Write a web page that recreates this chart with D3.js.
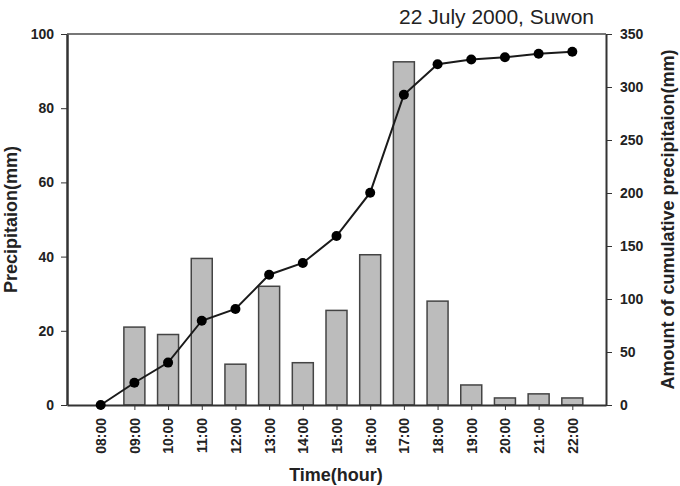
<!DOCTYPE html>
<html>
<head>
<meta charset="utf-8">
<script src="https://cdn.jsdelivr.net/npm/d3@7"></script>
<style>
    body { margin: 0; background: #fff; }
    svg { font-family: "Liberation Sans", Arial, sans-serif; }
    .axis text { font-size: 14px; font-weight: bold; fill: #222; }
    .axis path, .axis line { stroke: #333; }
    .axisTitle { font-size: 18px; font-weight: bold; fill: #222; }
</style>
</head>
<body>
<div id="chart"></div>
<script>
// hours on the x axis
var hours = ["08:00", "09:00", "10:00", "11:00", "12:00", "13:00", "14:00", "15:00",
             "16:00", "17:00", "18:00", "19:00", "20:00", "21:00", "22:00"];
// hourly precipitation (mm), left axis
var hourly = [0, 21, 19, 39.5, 11, 32, 11.4, 25.5, 40.5, 92.5, 28, 5.4, 1.9, 3, 1.9];
// cumulative precipitation (mm), right axis
var cumulative = [0, 21, 40, 79.5, 90.6, 122.9, 134, 159.4, 200.3, 292.7, 321.4, 326, 328, 331.4, 333.3];
var leftTicks = [0, 20, 40, 60, 80, 100];
var rightTicks = [0, 50, 100, 150, 200, 250, 300, 350];

function init() {
    var w = 680;
    var h = 486;
    var left = 67, right = 606, top = 34, bottom = 405;
    var barWidth = 21;

    var svg = d3.select("#chart")
        .append("svg")
        .attr("width", w)
        .attr("height", h);

    // index -1 .. 15 so that each hour sits in the middle of its slot
    var xScale = d3.scaleLinear()
        .domain([-1, hours.length])
        .range([left, right]);

    var yLeft = d3.scaleLinear().domain([0, 100]).range([bottom, top]);
    var yRight = d3.scaleLinear().domain([0, 350]).range([bottom, top]);

    // bars (skip the empty first hour)
    var barData = hourly.map(function(v, i) { return { i: i, v: v }; })
        .filter(function(d) { return d.v > 0; });

    svg.selectAll("rect.bar")
        .data(barData)
        .enter()
        .append("rect")
        .attr("class", "bar")
        .attr("x", function(d) { return xScale(d.i) - barWidth / 2; })
        .attr("y", function(d) { return yLeft(d.v); })
        .attr("width", barWidth)
        .attr("height", function(d) { return bottom - yLeft(d.v); })
        .attr("fill", "#bcbcbc")
        .attr("stroke", "#444")
        .attr("stroke-width", 1.5);

    // frame top line
    svg.append("line")
        .attr("x1", left).attr("x2", right)
        .attr("y1", top).attr("y2", top)
        .attr("stroke", "#777")
        .attr("stroke-width", 2);

    // axes
    var xAxis = d3.axisBottom(xScale)
        .tickValues(d3.range(hours.length))
        .tickFormat(function(i) { return hours[i]; })
        .tickSize(5)
        .tickSizeOuter(0);

    var gx = svg.append("g")
        .attr("class", "axis")
        .attr("transform", "translate(0," + bottom + ")")
        .call(xAxis);
    gx.select(".domain").attr("stroke-width", 2);
    gx.selectAll("text")
        .attr("transform", "rotate(-90)")
        .attr("x", -13)
        .attr("y", 0)
        .attr("dy", "0.35em")
        .style("text-anchor", "end");

    var gl = svg.append("g")
        .attr("class", "axis")
        .attr("transform", "translate(" + left + ",0)")
        .call(d3.axisLeft(yLeft).tickValues(leftTicks).tickSize(6).tickSizeOuter(0).tickPadding(7));
    gl.select(".domain").attr("stroke-width", 2.5);

    var gr = svg.append("g")
        .attr("class", "axis")
        .attr("transform", "translate(" + right + ",0)")
        .call(d3.axisRight(yRight).tickValues(rightTicks).tickSize(6).tickSizeOuter(0).tickPadding(8));
    gr.select(".domain").attr("stroke-width", 2);

    // cumulative line
    var line = d3.line()
        .x(function(d, i) { return xScale(i); })
        .y(function(d) { return yRight(d); });

    svg.append("path")
        .datum(cumulative)
        .attr("d", line)
        .attr("fill", "none")
        .attr("stroke", "#1a1a1a")
        .attr("stroke-width", 2);

    svg.selectAll("circle.pt")
        .data(cumulative)
        .enter()
        .append("circle")
        .attr("class", "pt")
        .attr("cx", function(d, i) { return xScale(i); })
        .attr("cy", function(d) { return yRight(d); })
        .attr("r", 5)
        .attr("fill", "#000");

    // titles
    svg.append("text")
        .attr("x", 594)
        .attr("y", 24)
        .attr("text-anchor", "end")
        .style("font-size", "21px")
        .style("fill", "#222")
        .text("22 July 2000, Suwon");

    svg.append("text")
        .attr("class", "axisTitle")
        .attr("transform", "translate(17," + (top + bottom) / 2 + ") rotate(-90)")
        .attr("text-anchor", "middle")
        .text("Precipitaion(mm)");

    svg.append("text")
        .attr("class", "axisTitle")
        .attr("transform", "translate(674," + (top + bottom) / 2 + ") rotate(-90)")
        .attr("text-anchor", "middle")
        .text("Amount of cumulative precipitaion(mm)");

    svg.append("text")
        .attr("class", "axisTitle")
        .attr("x", 336)
        .attr("y", 481)
        .attr("text-anchor", "middle")
        .text("Time(hour)");
}
window.onload = init;
</script>
</body>
</html>
